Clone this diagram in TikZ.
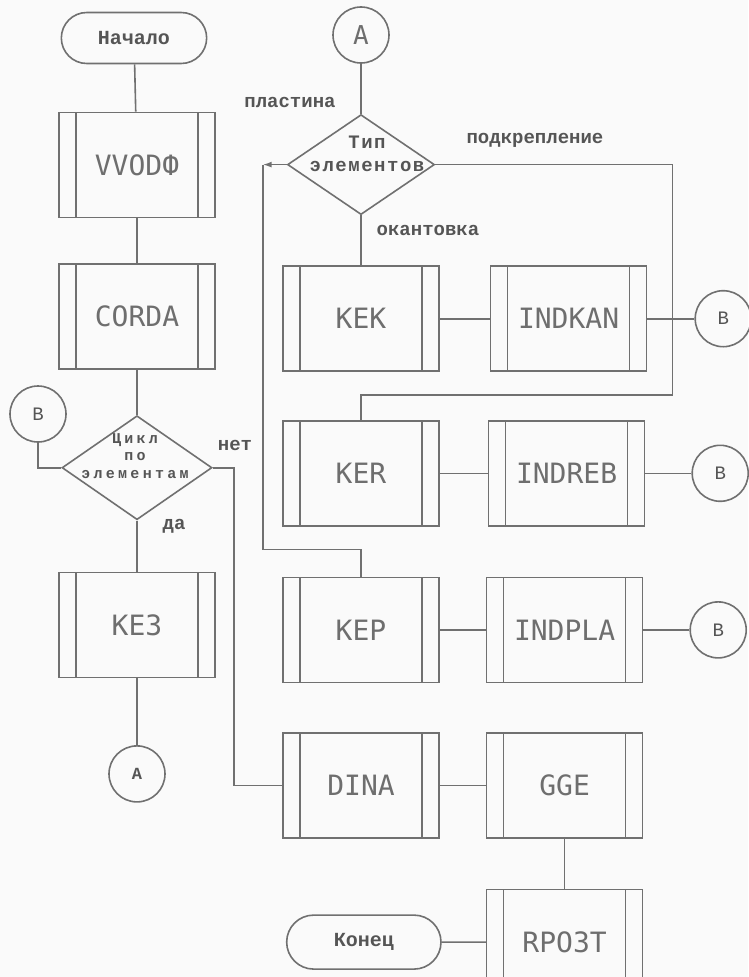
\documentclass[tikz,border=0pt]{standalone}
\usepackage{fontspec}
\usetikzlibrary{arrows.meta,positioning,calc,shapes.geometric,shapes.misc}
\newfontfamily\typefont{Liberation Mono}
\newfontfamily\plotfont{DejaVu Sans Mono}
\definecolor{ink}{HTML}{707070}
\definecolor{txt}{HTML}{555555}
\definecolor{paper}{HTML}{FAFAFA}

\begin{document}
\begin{tikzpicture}[
  x=1pt, y=-1pt, ink, line width=1.6pt,
  proc/.style={draw=ink, rectangle, minimum width=156pt, minimum height=105pt,
    inner sep=0pt, text=txt!85, font=\plotfont\fontsize{28}{30}\selectfont,
    path picture={
      \draw[ink, line width=1.6pt] ([xshift=17pt]path picture bounding box.north west)
        -- ([xshift=17pt]path picture bounding box.south west);
      \draw[ink, line width=1.6pt] ([xshift=-17pt]path picture bounding box.north east)
        -- ([xshift=-17pt]path picture bounding box.south east);}},
  term/.style={draw=ink, rounded rectangle, minimum width=152pt, minimum height=51pt,
    text=txt, font=\typefont\bfseries\fontsize{20}{22}\selectfont},
  ifbox/.style={draw=ink, diamond, minimum width=150pt, minimum height=104pt, inner sep=0pt},
  conn/.style={draw=ink, circle, minimum size=56pt, inner sep=0pt, text=txt,
    font=\typefont\fontsize{19}{21}\selectfont},
  lbl/.style={inner sep=0pt, text=txt, font=\typefont\bfseries\fontsize{19}{21}\selectfont},
  arr/.style={-{Latex[length=9pt,width=6pt]}}
]
\fill[paper] (0,0) rectangle (748,977);
\useasboundingbox (0,0) rectangle (748,977);

% ── left column: start, input, element loop ────────────────────────────
\node[term] (start) at (134,38) {Начало};
\node[proc] (vvod) at (137,165) {VVODФ};
\node[proc, below=45pt of vvod] (corda) {CORDA};
\node[ifbox, below=45pt of corda,
  label={[lbl, align=center, xshift=-2pt, yshift=12pt,
    font=\typefont\bfseries\fontsize{15}{17.5}\selectfont\addfontfeature{LetterSpace=22}]center:Цикл\\по\\элементам}] (cycle) {};
\node[conn] (inB) at (38,414) {B};
\node[proc, below=51pt of cycle] (kes) {KE3};
\node[conn, below=67pt of kes, font=\typefont\bfseries\fontsize{17}{19}\selectfont] (outA) {A};

\draw (start) -- (vvod);
\draw (vvod) -- (corda);
\draw (corda) -- (cycle);
\draw (inB) |- (cycle.west);
\draw (cycle) -- (kes);
\draw (kes) -- (outA);
\node[lbl] (netLbl) at (235,445) {нет};
\node[lbl] (daLbl) at (174,526) {да};

% ── right column: element type switch ──────────────────────────────────
\node[conn, font=\plotfont\fontsize{26}{28}\selectfont, text=txt!85] (inA) at (361,35) {A};
\node[ifbox, below=50pt of inA, minimum width=147pt, minimum height=100pt,
  label={[lbl, align=center, xshift=6pt, yshift=11pt,
    font=\typefont\bfseries\fontsize{19}{23}\selectfont\addfontfeature{LetterSpace=8}]center:Тип\\элементов}] (tip) {};
\node[proc, below=50pt of tip] (kek) {KEK};
\node[proc, right=50pt of kek] (indkan) {INDKAN};
\node[conn, right=47pt of indkan] (bK) {B};
\node[proc, below=48pt of kek] (ker) {KER};
\node[proc, right=48pt of ker] (indreb) {INDREB};
\node[conn, right=46pt of indreb] (bR) {B};
\node[proc, below=50pt of ker] (kep) {KEP};
\node[proc, right=46pt of kep] (indpla) {INDPLA};
\node[conn, right=46pt of indpla] (bP) {B};
\node[proc, below=49pt of kep] (dina) {DINA};
\node[proc, right=46pt of dina] (gge) {GGE};
\node[proc, below=50pt of gge] (rpo) {RPO3T};
\node[term, left=44pt of rpo, minimum width=161pt, minimum height=54pt] (stop) {Конец};

\node[lbl] (plLbl) at (290,102) {пластина};
\node[lbl] (podLbl) at (535,140) {подкрепление};
\node[lbl] (okLbl) at (428,230) {окантовка};

\draw (inA) -- (tip);
\draw (tip) -- (kek);
\draw (kek) -- (indkan);
\draw (indkan) -- (bK);
\draw (ker) -- (indreb);
\draw (indreb) -- (bR);
\draw (kep) -- (indpla);
\draw (indpla) -- (bP);
\draw (dina) -- (gge);
\draw (gge) -- (rpo);
\draw (stop) -- (rpo);

% branch lines
\coordinate (netR) at ($(cycle.east)+(21,0)$);
\draw (cycle.east) -- (netR) |- (dina.west);
\coordinate (plL) at ($(tip.west)+(-24,0)$);
\coordinate (plD) at ($(kep.north)+(0,-27)$);
\draw[arr] (tip.west) -- (plL);
\draw (plL) |- (plD) -- (kep.north);
\coordinate (podR) at ($(indkan.east)+(25,0)$);
\coordinate (podD) at ($(ker.north)+(0,-25)$);
\draw (tip.east) -| (podR |- podD) -| (ker.north);

\end{tikzpicture}
\end{document}
